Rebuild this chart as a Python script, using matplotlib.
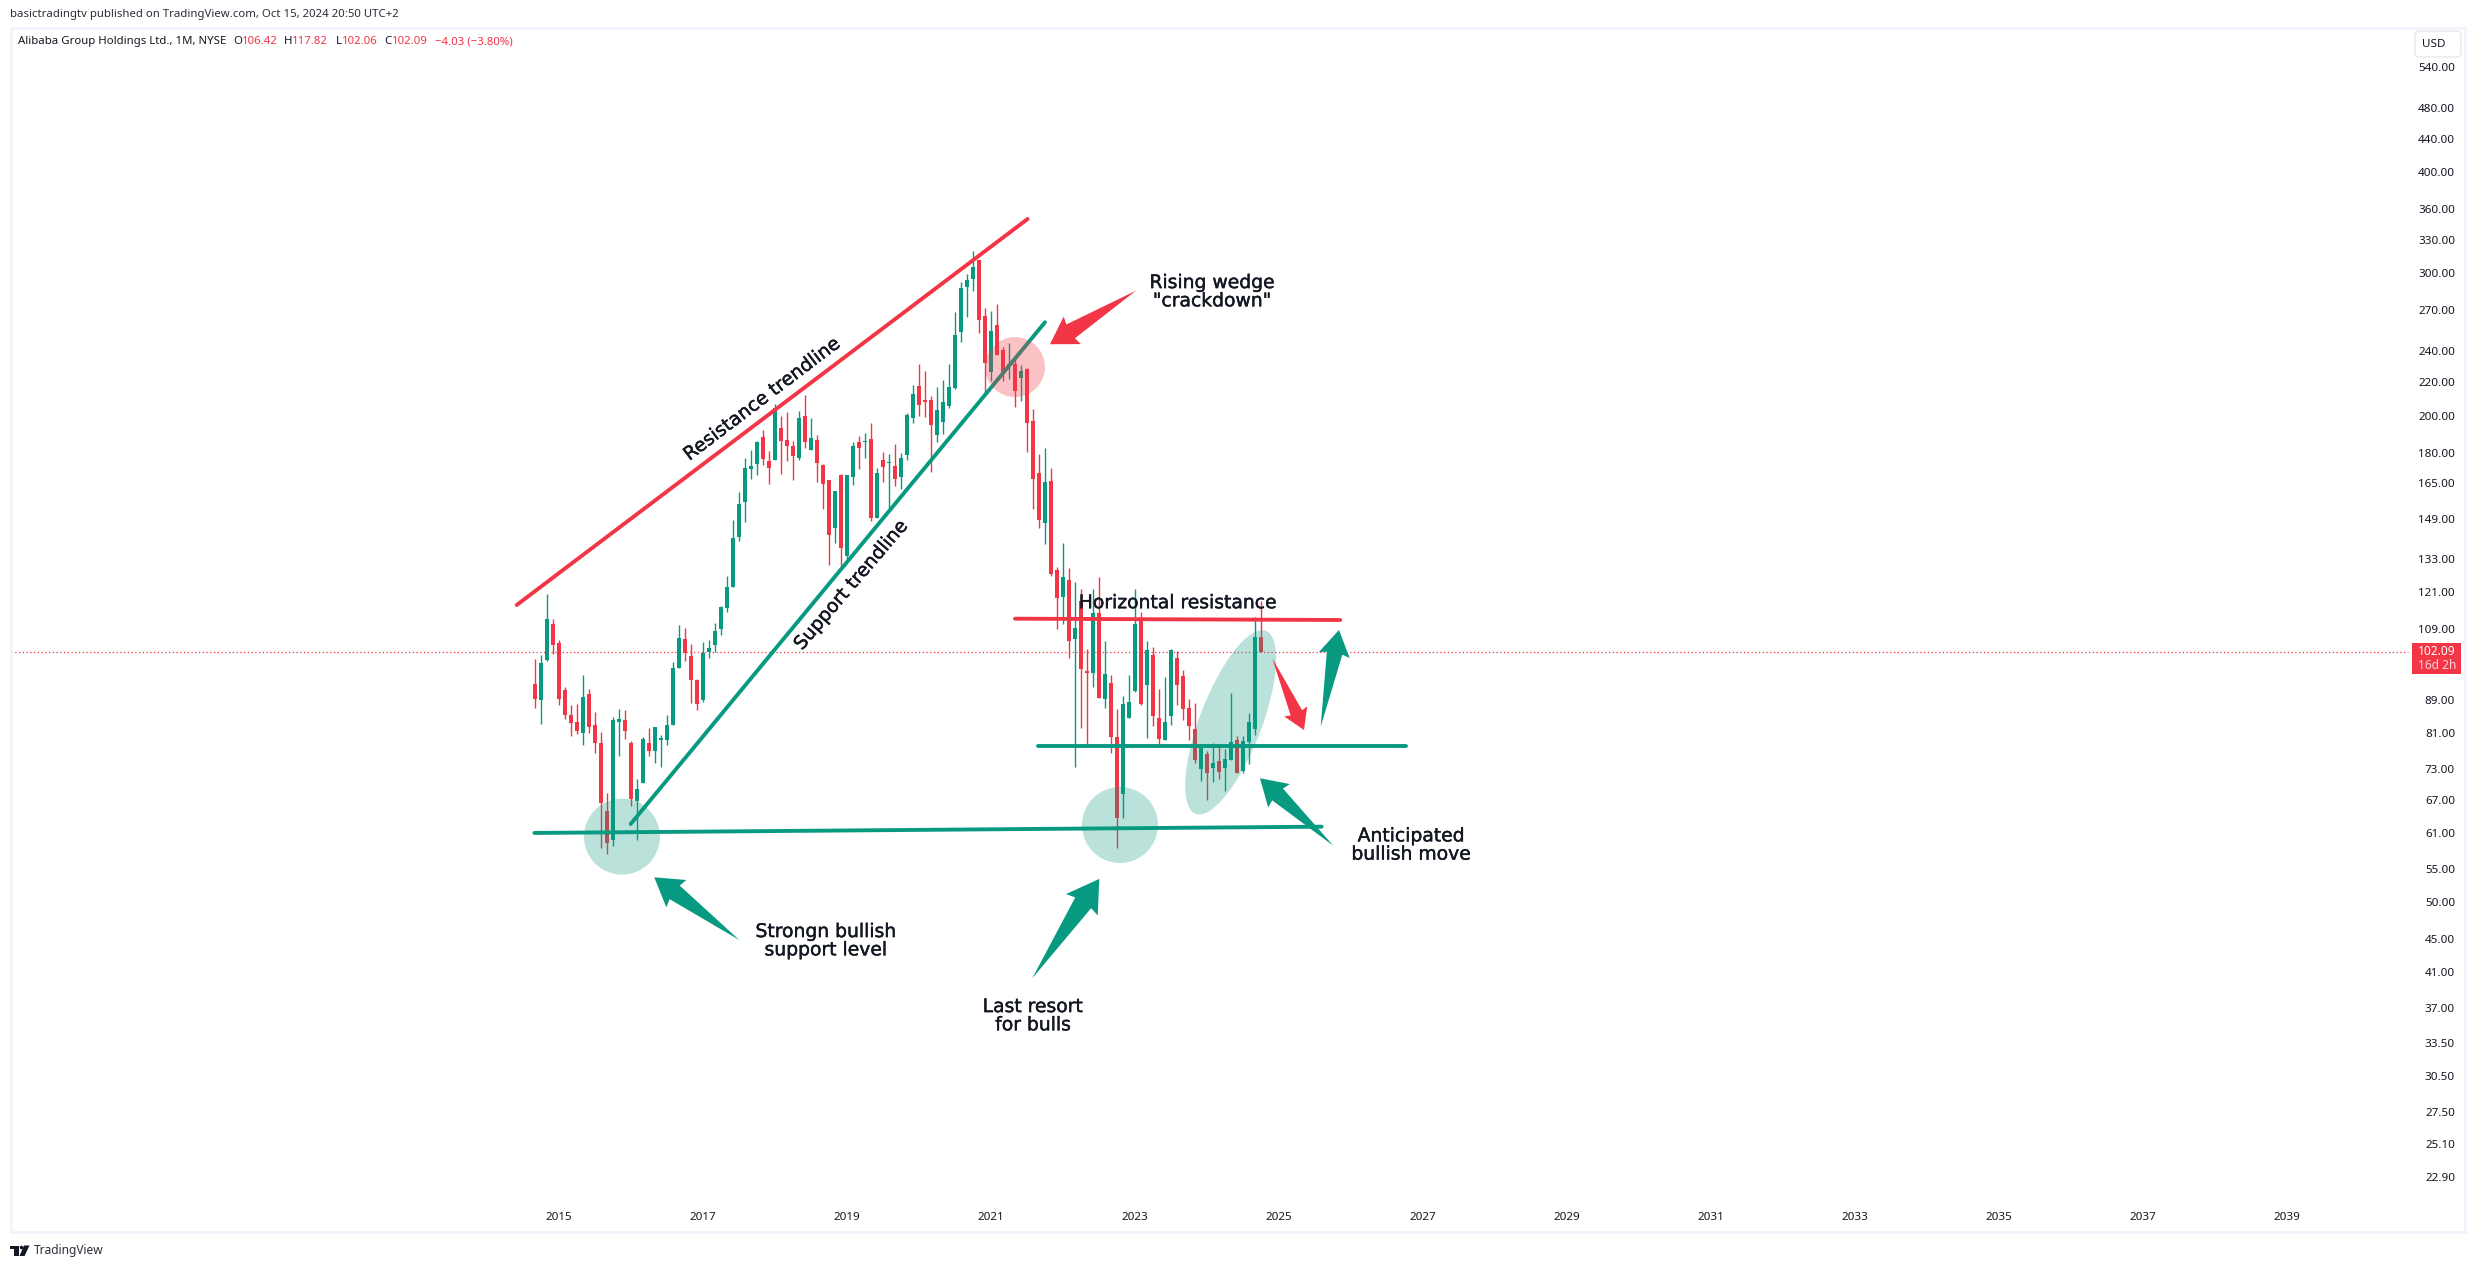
import numpy as np
import matplotlib
matplotlib.use("Agg")
import matplotlib.pyplot as plt
import matplotlib.patheffects as pe
from matplotlib.patches import Ellipse, Polygon, Rectangle, FancyBboxPatch, Circle
from matplotlib.transforms import IdentityTransform

# ---------------- DATA ----------------
# monthly candles, month 0 = Jan 2015, first candle Sep 2014
months = list(range(-4, 118))

opens = [
    93.23, 88.90, 99.72, 110.52, 104.78, 91.61, 85.37, 83.63, 81.07, 90.55,
    82.90, 78.61, 64.79, 59.65, 83.63, 84.13, 78.61, 66.64, 70.15, 78.61,
    77.04, 79.28, 79.28, 82.90, 97.56, 105.98, 100.91, 94.31, 89.07, 102.11,
    103.91, 108.95, 115.76, 122.88, 141.70, 156.56, 171.97, 174.44, 188.34, 175.94,
    176.43, 193.26, 186.69, 183.42, 177.43, 199.81, 181.40, 186.69, 173.95, 166.49,
    144.99, 168.98, 134.23, 167.98, 185.61, 185.61, 187.25, 149.52, 176.43, 174.94,
    173.45, 167.98, 178.92, 198.72, 217.24, 209.26, 209.26, 189.39, 196.08, 205.58,
    216.01, 253.96, 288.74, 295.25, 311.80, 265.81, 226.52, 259.15, 241.31, 230.55,
    231.89, 222.76, 228.53, 196.63, 169.90, 147.10, 166.04, 128.93, 119.31, 125.37,
    105.96, 118.01, 96.74, 96.21, 114.12, 89.27, 93.25, 80.16, 68.13, 84.64,
    91.36, 112.39, 92.98, 101.25, 84.64, 79.49, 85.12, 100.37, 95.13, 87.08,
    81.95, 73.18, 76.39, 73.38, 74.84, 73.38, 75.06, 79.49, 72.77, 79.05,
    81.95, 106.42,
]
highs = [
    100.02, 101.21, 120.34, 112.16, 105.68, 92.42, 87.59, 88.08, 95.40, 91.88,
    85.86, 81.30, 68.31, 84.87, 86.84, 86.35, 79.06, 70.96, 80.18, 82.19,
    82.42, 80.63, 85.37, 99.18, 110.20, 109.25, 104.49, 94.58, 105.08, 105.68,
    110.85, 116.41, 126.80, 148.70, 161.07, 177.43, 181.40, 186.16, 192.17, 180.90,
    206.88, 199.81, 202.07, 186.16, 202.67, 212.29, 198.72, 189.43, 174.44, 166.49,
    161.52, 169.47, 168.98, 185.61, 188.89, 190.53, 195.99, 172.46, 180.41, 179.41,
    184.29, 179.91, 201.47, 218.30, 231.89, 227.19, 211.27, 216.62, 221.53, 231.89,
    268.78, 292.81, 299.32, 319.85, 311.80, 271.74, 269.52, 274.90, 243.32, 246.01,
    236.60, 231.22, 229.20, 203.87, 179.01, 182.56, 172.46, 129.88, 139.28, 129.64,
    124.65, 121.91, 103.02, 121.91, 126.43, 105.37, 95.40, 86.83, 90.02, 95.40,
    121.91, 114.45, 105.37, 103.61, 91.86, 94.86, 103.02, 102.43, 97.00, 89.27,
    88.29, 78.38, 77.05, 78.75, 77.72, 77.29, 90.83, 80.38, 80.38, 85.70,
    112.83, 117.82,
]
lows = [
    87.09, 83.15, 99.54, 101.51, 87.83, 84.38, 80.40, 80.85, 78.16, 81.07,
    76.60, 58.30, 57.46, 58.64, 75.93, 79.51, 65.71, 59.65, 70.15, 75.93,
    74.42, 73.60, 78.16, 82.90, 97.56, 99.45, 88.33, 86.35, 88.57, 100.32,
    102.11, 107.17, 114.45, 122.88, 140.05, 147.87, 166.99, 168.98, 173.95, 164.68,
    176.43, 169.47, 175.94, 166.49, 176.43, 182.40, 181.40, 165.59, 153.45, 130.49,
    139.23, 130.12, 132.36, 164.23, 171.97, 177.43, 148.28, 149.52, 165.59, 153.90,
    163.78, 162.43, 176.43, 195.99, 199.97, 199.42, 170.40, 185.60, 189.95, 204.43,
    215.40, 246.69, 265.07, 285.48, 253.22, 212.94, 220.92, 237.95, 220.92, 222.14,
    204.98, 208.65, 180.03, 153.38, 145.00, 138.71, 126.76, 108.93, 110.56, 100.37,
    73.58, 82.19, 78.38, 92.40, 89.51, 87.08, 76.61, 58.30, 63.67, 84.64,
    91.09, 87.81, 79.94, 82.69, 78.16, 79.49, 82.93, 87.81, 84.15, 79.49,
    74.39, 70.55, 66.98, 70.35, 70.95, 68.73, 75.06, 72.17, 72.37, 74.19,
    80.60, 102.06,
]
closes = [
    89.15, 98.91, 112.16, 104.19, 89.31, 85.37, 83.39, 81.52, 89.81, 82.42,
    78.61, 66.27, 59.15, 84.13, 84.38, 81.52, 67.19, 69.12, 79.51, 77.04,
    82.42, 79.95, 82.90, 97.56, 106.27, 101.81, 94.31, 88.08, 101.81, 103.25,
    108.36, 116.09, 122.84, 141.29, 155.65, 172.46, 173.45, 185.61, 176.93, 172.46,
    204.47, 186.16, 183.42, 178.42, 198.72, 185.61, 187.80, 174.94, 164.68, 142.52,
    161.52, 137.22, 168.98, 183.42, 182.40, 186.16, 149.52, 169.97, 172.95, 175.44,
    166.99, 177.43, 200.36, 212.89, 206.19, 208.03, 194.40, 203.31, 208.03, 216.62,
    251.73, 287.92, 294.43, 305.53, 262.85, 232.56, 254.70, 237.95, 226.52, 231.89,
    214.17, 227.19, 195.52, 167.13, 148.35, 165.73, 127.50, 118.99, 126.43, 105.37,
    109.26, 97.28, 96.21, 114.12, 89.51, 95.93, 80.16, 63.67, 88.05, 88.54,
    110.56, 88.05, 102.72, 84.89, 79.71, 83.66, 102.72, 92.98, 86.83, 82.69,
    75.06, 78.16, 72.37, 74.39, 72.57, 75.28, 78.83, 72.17, 79.27, 83.66,
    106.55, 102.09,
]

last_price = 102.09

price_ticks = [540, 480, 440, 400, 360, 330, 300, 270, 240, 220, 200, 180, 165, 149,
               133, 121, 109, 89, 81, 73, 67, 61, 55, 50, 45, 41, 37, 33.5, 30.5, 27.5,
               25.1, 22.9]
year_labels = list(range(2015, 2041, 2))
year_months = [(y - 2015) * 12 for y in year_labels]

# ---------------- DRAWINGS (month, price) ----------------
resistance_months = [-7.05, 78.1]
resistance_prices = [116.6, 350.0]
support_months = [11.95, 81.0]
support_prices = [62.5, 260.8]
base_months = [-4.1, 127.1]
base_prices = [60.93, 62.03]
hres_months = [76.0, 130.2]
hres_prices = [112.15, 111.73]
hsup_months = [79.9, 141.2]
hsup_prices = [78.05, 78.05]

green_circle_months = [10.5, 93.5]
green_circle_prices = [60.29, 62.33]
pink_circle_month = 76.0
pink_circle_price = 229.6
ellipse_month = 111.95
ellipse_price = 83.5

arrow_tail_months = [96.17, 30.05, 78.88, 129.05, 118.88, 126.95]
arrow_tail_prices = [285.4, 44.92, 40.28, 58.76, 100.19, 82.46]
arrow_tip_months = [81.83, 15.88, 90.05, 116.83, 124.17, 130.0]
arrow_tip_prices = [245.0, 53.70, 53.45, 71.20, 81.68, 108.60]
arrow_is_red = [True, False, False, False, True, False]

# ---------------- STYLE ----------------
WIDTH, HEIGHT = 2475, 1268
GREEN = "#089981"
RED = "#F23645"
BORDER = "#f0f3fa"
AXIS_TEXT = "#131722"
UI_FONT = "Noto Sans"
NOTE_FONT = "DejaVu Sans"
NOTE_SIZE = 13.5

fig = plt.figure(figsize=(WIDTH / 100, HEIGHT / 100), dpi=100)


def fx(x):
    return x / WIDTH


def fy(y):
    return 1 - y / HEIGHT


# pane runs from x 11 to 2465, y 28 to 1232
ax = fig.add_axes([fx(11), fy(1232), fx(2465) - fx(11), fy(28) - fy(1232)])
ax.set_yscale("log")
ax.set_xlim(-91.33, 317.67)
ax.set_ylim(19.56, 602.9)

for spine in ax.spines.values():
    spine.set_color(BORDER)
    spine.set_linewidth(2.0)

# ---------------- AXES ----------------
ax.yaxis.tick_right()
ax.set_yticks(price_ticks, [f"{p:.2f}" for p in price_ticks], fontfamily=UI_FONT, fontsize=8.4,
              color=AXIS_TEXT)
ax.minorticks_off()
ax.tick_params(axis="y", which="both", length=0, pad=-7.2)
for tick in ax.yaxis.get_major_ticks():
    tick.label2.set_ha("right")

ax.set_xticks(year_months, [str(y) for y in year_labels], fontfamily=UI_FONT, fontsize=8.4,
              color=AXIS_TEXT)
ax.tick_params(axis="x", length=0, pad=-14.5)

# ---------------- CANDLES ----------------
opens_a = np.array(opens)
closes_a = np.array(closes)
colors = [GREEN if c >= o else RED for o, c in zip(opens, closes)]

ax.vlines(months, lows, highs, colors=colors, linewidth=1.0, zorder=2)
ax.bar(months, np.abs(closes_a - opens_a), bottom=np.minimum(opens_a, closes_a), width=0.8,
       color=colors, linewidth=0, zorder=2.1)

ax.plot([-91.33, 308.1], [last_price, last_price], color=RED, lw=0.9,
        ls=(0, (1, 2.0)), zorder=1.5)

# ---------------- LINES ----------------
for xs, ys, col in [(resistance_months, resistance_prices, RED),
                    (support_months, support_prices, GREEN),
                    (base_months, base_prices, GREEN),
                    (hres_months, hres_prices, RED),
                    (hsup_months, hsup_prices, GREEN)]:
    ax.plot(xs, ys, color=col, lw=2.8, solid_capstyle="round", zorder=3)


# ---------------- SHAPES ----------------
def to_px(month, price):
    return ax.transData.transform((month, price))


def add_circle(month, price, radius, col, alpha):
    ax.add_patch(Circle(to_px(month, price), radius, transform=IdentityTransform(),
                        facecolor=col, edgecolor="none", alpha=alpha, zorder=4))


for m, p in zip(green_circle_months, green_circle_prices):
    add_circle(m, p, 38, GREEN, 0.28)
add_circle(pink_circle_month, pink_circle_price, 30, RED, 0.3)

ax.add_patch(Ellipse(to_px(ellipse_month, ellipse_price), 196, 62, angle=69,
                     transform=IdentityTransform(), facecolor=GREEN, edgecolor="none",
                     alpha=0.28, zorder=4))


def add_arrow(tail, tip, col):
    tail = to_px(*tail)
    tip = to_px(*tip)
    d = tail - tip
    length = np.hypot(*d)
    u = d / length
    n = np.array([-u[1], u[0]])
    pts = [tip,
           tip + u * 0.26 * length + n * 0.16 * length,
           tip + u * 0.24 * length + n * 0.08 * length,
           tail,
           tip + u * 0.24 * length - n * 0.08 * length,
           tip + u * 0.26 * length - n * 0.16 * length]
    ax.add_patch(Polygon(pts, closed=True, transform=IdentityTransform(), facecolor=col,
                         edgecolor="none", zorder=5))


for i in range(len(arrow_tail_months)):
    add_arrow((arrow_tail_months[i], arrow_tail_prices[i]),
              (arrow_tip_months[i], arrow_tip_prices[i]),
              RED if arrow_is_red[i] else GREEN)


# ---------------- NOTES ----------------
def note(x, y, s, rotation=0):
    t = fig.text(fx(x), fy(y), s, fontfamily=NOTE_FONT, fontsize=NOTE_SIZE, color="#131722",
                 ha="center", va="center", ma="center", rotation=rotation,
                 rotation_mode="anchor", linespacing=0.95)
    # the reference lettering is a bit heavier than DejaVu regular
    t.set_path_effects([pe.withStroke(linewidth=0.3, foreground="#131722")])


note(1212, 291.7, 'Rising wedge\n"crackdown"')
note(1177.7, 602.7, "Horizontal resistance")
note(762, 399, "Resistance trendline", rotation=37.2)
note(851, 585, "Support trendline", rotation=49.5)
note(825.8, 940.7, "Strongn bullish\nsupport level")
note(1033, 1015.7, "Last resort\nfor bulls")
note(1411, 845, "Anticipated\nbullish move")

# ---------------- HEADER / FOOTER ----------------
fig.text(fx(10), fy(15), "basictradingtv published on TradingView.com, Oct 15, 2024 20:50 UTC+2",
         fontfamily=UI_FONT, fontsize=8.2, color="#2a2e39", ha="left", va="center")

legend_parts = [(18, "Alibaba Group Holdings Ltd., 1M, NYSE", AXIS_TEXT),
                (233, "O", AXIS_TEXT), (242, "106.42", RED),
                (284, "H", AXIS_TEXT), (292, "117.82", RED),
                (336, "L", AXIS_TEXT), (342, "102.06", RED),
                (384.5, "C", AXIS_TEXT), (392, "102.09", RED),
                (434.8, "\u22124.03 (\u22123.80%)", RED)]
for x, s, col in legend_parts:
    fig.text(fx(x), fy(41.7), s, fontfamily=UI_FONT, fontsize=8.2, color=col, ha="left", va="center")

# USD box and last price tag
fig.add_artist(FancyBboxPatch((2418, HEIGHT - 54), 40, 20, boxstyle="round,pad=3,rounding_size=5",
                              transform=IdentityTransform(), facecolor="white",
                              edgecolor="#e0e3eb", linewidth=0.8))
fig.text(fx(2434), fy(44.7), "USD", fontfamily=UI_FONT, fontsize=8.4, color=AXIS_TEXT,
         ha="center", va="center")

fig.add_artist(Rectangle((2412, HEIGHT - 674), 49, 31, transform=IdentityTransform(),
                         facecolor=RED, edgecolor="none"))
fig.text(fx(2456), fy(651.7), f"{last_price:.2f}", fontfamily=UI_FONT, fontsize=8.6,
         fontweight="bold", color="white", ha="right", va="center")
fig.text(fx(2456), fy(665.7), "16d 2h", fontfamily=UI_FONT, fontsize=8.6, color="#fbd5d8",
         ha="right", va="center")

# TradingView logo
LOGO = "#131722"
fig.add_artist(Rectangle((10, HEIGHT - 1249), 9, 3.5, transform=IdentityTransform(),
                         facecolor=LOGO, edgecolor="none"))
fig.add_artist(Rectangle((14, HEIGHT - 1256), 4.5, 8, transform=IdentityTransform(),
                         facecolor=LOGO, edgecolor="none"))
fig.add_artist(Circle((21.5, HEIGHT - 1247.5), 1.8, transform=IdentityTransform(),
                      facecolor=LOGO, edgecolor="none"))
fig.add_artist(Polygon([(24, HEIGHT - 1245.5), (29.5, HEIGHT - 1245.5), (24.5, HEIGHT - 1256),
                        (19.5, HEIGHT - 1256)], closed=True, transform=IdentityTransform(),
                       facecolor=LOGO, edgecolor="none"))
fig.text(fx(33.5), fy(1250.7), "TradingView", fontfamily=UI_FONT, fontsize=8.6, color="#2a2e39",
         ha="left", va="center")

fig.savefig("out.png", dpi=100, facecolor="white")
